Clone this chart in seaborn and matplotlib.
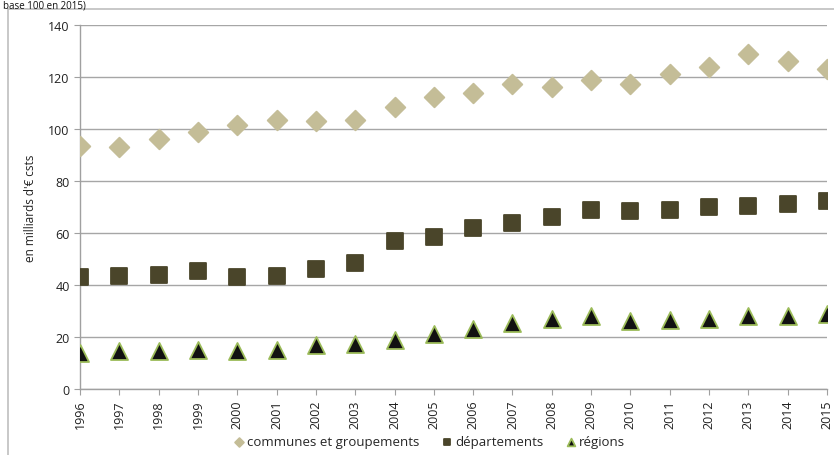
import numpy as np
import pandas as pd
import matplotlib
matplotlib.use("Agg")
import matplotlib.pyplot as plt
import seaborn as sns
from matplotlib.patches import Rectangle

years = list(range(1996, 2016))
communes = [93.5, 93, 96, 99, 101.5, 103.5, 103, 103.5, 108.5, 112.5,
            114, 117.5, 116, 119, 117.5, 121, 124, 129, 126, 123]
departements = [43, 43.5, 44, 45.5, 43, 43.5, 46, 48.5, 57, 58.5,
                62, 64, 66, 69, 68.5, 69, 70, 70.5, 71, 72.5]
regions = [14, 14.5, 14.5, 15, 14.5, 15, 17, 17.5, 19, 21,
           23, 25.5, 27, 28, 26, 26.5, 27, 28, 28, 29]

series = ["communes et groupements", "départements", "régions"]

df = pd.DataFrame({
    "annee": years * 3,
    "valeur": communes + departements + regions,
    "type": [series[0]] * 20 + [series[1]] * 20 + [series[2]] * 20,
})

sns.set_style("white")
plt.rcParams['font.family'] = ['Open Sans', 'DejaVu Sans']

fig = plt.figure(figsize=(8.34, 4.56), dpi=100)
ax = fig.add_axes([80 / 834, 1 - 390 / 456, (827 - 80) / 834, (390 - 26) / 456])

styles = {
    series[0]: dict(marker="D", color="#C4BD97", edgecolor="#C4BD97", s=100),
    series[1]: dict(marker="s", color="#4A452A", edgecolor="#4A452A", s=120),
    series[2]: dict(marker="^", color="#111111", edgecolor="#9BBB59", s=150),
}
for name in series:
    st = styles[name]
    sns.scatterplot(data=df[df["type"] == name], x="annee", y="valeur", ax=ax,
                    marker=st["marker"], color=st["color"], edgecolor=st["edgecolor"],
                    linewidth=1.3, s=st["s"], label=name, zorder=3)

ax.set_xlim(1996, 2015)
ax.set_ylim(0, 140)
ax.set_yticks(range(0, 141, 20))
ax.set_xticks(years)
ax.set_xticklabels([str(y) for y in years], rotation=90, fontsize=9, color="#222222")
ax.tick_params(axis="y", labelsize=9, labelcolor="#222222", length=4, color="#A0A0A0", direction="out", left=True)
ax.tick_params(axis="x", length=4, color="#A0A0A0", direction="out", bottom=True)
ax.grid(axis="y", color="#A6A6A6", linewidth=1)
ax.grid(axis="x", visible=False)
ax.set_axisbelow(True)
for side in ["top", "right"]:
    ax.spines[side].set_visible(False)
for side in ["left", "bottom"]:
    ax.spines[side].set_color("#A0A0A0")
    ax.spines[side].set_linewidth(1)
ax.set_xlabel("")
ax.set_ylabel("en milliards d'€ csts", fontsize=8.5, color="#222222")
ax.yaxis.set_label_coords(-0.057, 0.5)

handles, labels = ax.get_legend_handles_labels()
ax.legend_.remove()
leg = fig.legend(handles, labels, loc="center", bbox_to_anchor=(0.514, 1 - 443 / 456),
                 ncol=3, frameon=False, fontsize=9.5, markerscale=0.45,
                 handletextpad=0.1, columnspacing=1.6, handlelength=1)

fig.patches.append(Rectangle((8 / 834, -0.05), 1.0, 1 - 10 / 456 + 0.05,
                             transform=fig.transFigure, fill=False,
                             edgecolor="#BFBFBF", linewidth=1.2))
fig.text(0.003, 0.999, "base 100 en 2015)", fontsize=7, va="top", ha="left", color="#111111")

fig.savefig("out.png", dpi=100)
